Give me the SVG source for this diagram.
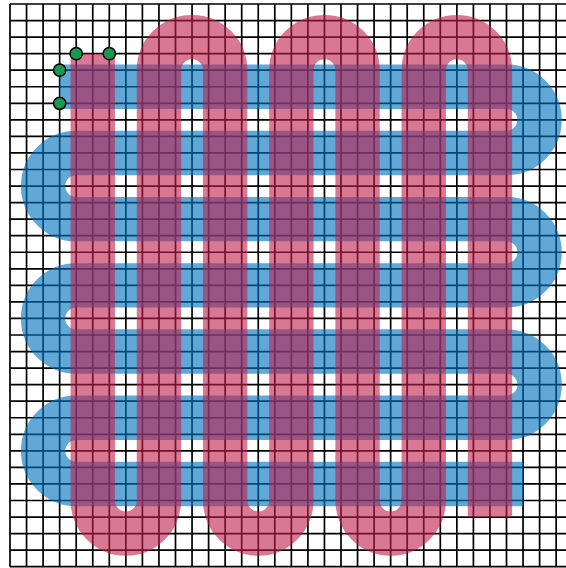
<svg xmlns="http://www.w3.org/2000/svg" width="566" height="568" viewBox="0 0 566 568">
<style>
.grid{fill:none;stroke:#000;stroke-width:1.7;vector-effect:non-scaling-stroke}
.blue{fill:none;stroke:#0072BD;stroke-opacity:0.62;stroke-width:2.68;stroke-linecap:butt;stroke-linejoin:round}
.red{fill:none;stroke:#BE1E4B;stroke-opacity:0.6;stroke-width:2.68;stroke-linecap:butt;stroke-linejoin:round}
.dot{fill:#1a9850;stroke:#000;stroke-width:1.5;vector-effect:non-scaling-stroke}
</style>
<rect width="566" height="568" fill="#fff"/>
<g transform="translate(10,4) scale(16.55)">
<g id="grid">
<path class="grid" d="M0,0V34M1,0V34M2,0V34M3,0V34M4,0V34M5,0V34M6,0V34M7,0V34M8,0V34M9,0V34M10,0V34M11,0V34M12,0V34M13,0V34M14,0V34M15,0V34M16,0V34M17,0V34M18,0V34M19,0V34M20,0V34M21,0V34M22,0V34M23,0V34M24,0V34M25,0V34M26,0V34M27,0V34M28,0V34M29,0V34M30,0V34M31,0V34M32,0V34M33,0V34M34,0V34M0,0H34M0,1H34M0,2H34M0,3H34M0,4H34M0,5H34M0,6H34M0,7H34M0,8H34M0,9H34M0,10H34M0,11H34M0,12H34M0,13H34M0,14H34M0,15H34M0,16H34M0,17H34M0,18H34M0,19H34M0,20H34M0,21H34M0,22H34M0,23H34M0,24H34M0,25H34M0,26H34M0,27H34M0,28H34M0,29H34M0,30H34M0,31H34M0,32H34M0,33H34M0,34H34"/>
</g>
<g id="connectors">
<path id="blue-path" class="blue" d="M3,5H30A2,2 0 0 1 30,9H4A2,2 0 0 0 4,13H30A2,2 0 0 1 30,17H4A2,2 0 0 0 4,21H30A2,2 0 0 1 30,25H4A2,2 0 0 0 4,29H31"/>
<path id="red-path" class="red" d="M5,3V30A2,2 0 0 0 9,30V4A2,2 0 0 1 13,4V30A2,2 0 0 0 17,30V4A2,2 0 0 1 21,4V30A2,2 0 0 0 25,30V4A2,2 0 0 1 29,4V31"/>
</g>
<g id="dot1"><circle class="dot" cx="3" cy="4" r="0.37"/></g>
<g id="dot2"><circle class="dot" cx="4" cy="3" r="0.37"/></g>
<g id="dot3"><circle class="dot" cx="6" cy="3" r="0.37"/></g>
<g id="dot4"><circle class="dot" cx="3" cy="6" r="0.37"/></g>
</g>
</svg>
